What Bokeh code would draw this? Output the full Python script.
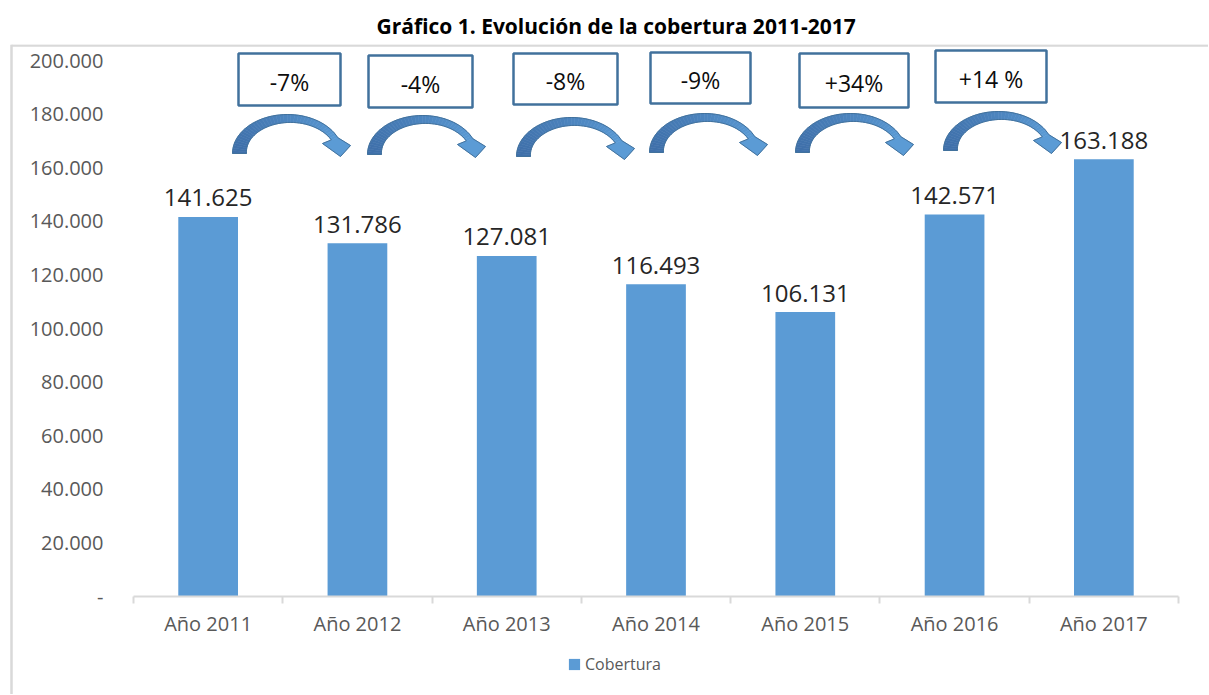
import math
from bokeh.plotting import figure
from bokeh.models import Range1d, FixedTicker, Legend, LegendItem
from bokeh.core.properties import value
from bokeh.embed import file_html
from bokeh.resources import INLINE

# ---------------- data ----------------
categories = ["Año 2011", "Año 2012", "Año 2013", "Año 2014", "Año 2015", "Año 2016", "Año 2017"]
cobertura = [141625, 131786, 127081, 116493, 106131, 142571, 163188]
series_name = "Cobertura"
y_ticks = [0, 20000, 40000, 60000, 80000, 100000, 120000, 140000, 160000, 180000, 200000]
y_tick_labels = ["-", "20.000", "40.000", "60.000", "80.000", "100.000", "120.000",
                 "140.000", "160.000", "180.000", "200.000"]
changes = ["-7%", "-4%", "-8%", "-9%", "+34%", "+14 %"]
title_text = "Gráfico 1. Evolución de la cobertura 2011-2017"

# ---------------- layout (page pixels) ----------------
W, H = 1208, 694
N = len(categories)
X0_PX, X1_PX = 133, 1178          # category axis extent on the page
Y0_PX, Y200_PX = 596, 60          # value 0 and 200.000 on the page
TOP_PX = 44                       # top of the plotting frame
PXU = (X1_PX - X0_PX) / N         # px per category
PYU = (Y0_PX - Y200_PX) / 200000  # px per unit value

def xd(px):
    return (px - X0_PX) / PXU

def yd(py):
    return (Y0_PX - py) / PYU

FONT = "Open Sans"
GRAY = "#595959"
BAR = "#5B9BD5"
BOXLINE = "#41719C"

p = figure(width=W, height=H, output_backend="svg", toolbar_location=None,
           x_range=Range1d(xd(0), xd(W)), y_range=Range1d(yd(H), yd(TOP_PX)),
           min_border_left=0, min_border_right=0,
           min_border_top=TOP_PX, min_border_bottom=0)
p.outline_line_color = None
p.xgrid.visible = False
p.ygrid.visible = False
p.background_fill_color = "white"
p.border_fill_color = "white"

# title
p.title.text = title_text
p.title.align = "left"
p.title.offset = 376
p.title.text_font = FONT
p.title.text_font_size = "21px"
p.title.text_font_style = "bold"
p.title.text_color = "#000000"

# outer chart border (light gray)
p.segment(x0=[xd(11), xd(11)], y0=[yd(44), yd(45)], x1=[xd(11), xd(W + 5)], y1=[yd(H + 5), yd(45)],
          line_color="#D9D9D9", line_width=2.5)

centers = [i + 0.5 for i in range(N)]

# bars
r = p.vbar(x=centers, top=cobertura, width=0.4, fill_color=BAR, line_color=None)

# data labels
labels = [f"{v:,}".replace(",", ".") for v in cobertura]
p.text(x=centers, y=cobertura, text=labels, text_align="center", text_baseline="alphabetic",
       y_offset=-19, text_font=value(FONT), text_font_size="24px", text_color="#262626")

# x axis (drawn at value 0)
xa = p.xaxis[0]
xa.fixed_location = 0
xa.bounds = (0, N)
xa.ticker = FixedTicker(ticks=centers, minor_ticks=list(range(N + 1)))
xa.major_label_overrides = {c: lab for c, lab in zip(centers, categories)}
xa.axis_line_color = "#D9D9D9"
xa.axis_line_width = 2
xa.major_tick_line_color = None
xa.major_tick_out = 0
xa.major_tick_in = 0
xa.minor_tick_line_color = "#D9D9D9"
xa.minor_tick_line_width = 2
xa.minor_tick_out = 7
xa.minor_tick_in = 0
xa.major_label_standoff = 6
xa.major_label_text_font = FONT
xa.major_label_text_font_size = "20px"
xa.major_label_text_color = GRAY

# y axis (drawn at the left edge of the first category)
ya = p.yaxis[0]
ya.fixed_location = 0
ya.ticker = FixedTicker(ticks=y_ticks)
ya.major_label_overrides = {t: lab for t, lab in zip(y_ticks, y_tick_labels)}
ya.axis_line_color = None
ya.major_tick_line_color = None
ya.minor_tick_line_color = None
ya.major_tick_out = 0
ya.major_tick_in = 0
ya.major_label_standoff = 30
ya.major_label_text_font = FONT
ya.major_label_text_font_size = "20px"
ya.major_label_text_color = GRAY

# legend (inside the frame, below the category axis)
legend = Legend(items=[LegendItem(label=series_name, renderers=[r])],
                location=(567, H - 675), orientation="horizontal",
                glyph_width=14, glyph_height=14, label_standoff=4,
                label_text_font=FONT, label_text_font_size="16px", label_text_color=GRAY,
                border_line_color=None, background_fill_alpha=0, padding=2, margin=0)
p.add_layout(legend)

# change boxes (page px: left, right, top, bottom)
box_rects = [(238, 340, 53, 105), (368, 472, 55, 107), (513, 617, 53, 104),
             (650, 750, 52, 103), (799, 908, 53, 107), (935, 1046, 50, 102)]
p.quad(left=[xd(b[0]) for b in box_rects], right=[xd(b[1]) for b in box_rects],
       top=[yd(b[2]) for b in box_rects], bottom=[yd(b[3]) for b in box_rects],
       fill_color="white", line_color=BOXLINE, line_width=2.5)
p.text(x=[xd((b[0] + b[1]) / 2) for b in box_rects],
       y=[yd((b[2] + b[3]) / 2 + 2) for b in box_rects],
       text=changes, text_align="center", text_baseline="middle",
       text_font=value(FONT), text_font_size="23px", text_color="#0D0D0D")

# curved arrows (page px anchors = bottom-left of arrow foot)
arrow_anchors = [(232, 153), (367, 154), (516, 156), (649, 152), (795, 152), (943, 150)]

def arrow_parts():
    a, b, cx = 55.0, 39.0, 55.0
    t_end = 0.42
    n = 40
    ts = [math.pi - (math.pi - t_end) * k / n for k in range(n + 1)]
    outer, inner = [], []
    for t in ts:
        th = 7 + 7 * (t - t_end) / (math.pi - t_end)
        outer.append((cx + a * math.cos(t), -b * math.sin(t)))
        inner.append((cx + (a - th) * math.cos(t), -(b - 0.8 * th) * math.sin(t)))
    head = [(118, -8), (108, 3), (90, -10)]
    return outer, inner, head

def mix(c1, c2, f):
    a = [int(c1[i:i + 2], 16) for i in (1, 3, 5)]
    b = [int(c2[i:i + 2], 16) for i in (1, 3, 5)]
    return "#%02x%02x%02x" % tuple(round(a[i] + (b[i] - a[i]) * f) for i in range(3))

outer, inner, head = arrow_parts()
seg_xs, seg_ys, seg_cols = [], [], []
outline_xs, outline_ys = [], []
dark, light = "#3F70AA", "#5B9BD5"
for ax, ay in arrow_anchors:
    n = len(outer) - 1
    for k in range(n):
        quad = [outer[k], outer[k + 1], inner[k + 1], inner[k]]
        seg_xs.append([xd(ax + ox) for ox, oy in quad])
        seg_ys.append([yd(ay + oy) for ox, oy in quad])
        seg_cols.append(mix(dark, light, (k / n) ** 1.3))
    hd = [outer[-1]] + head + [inner[-1]]
    seg_xs.append([xd(ax + ox) for ox, oy in hd])
    seg_ys.append([yd(ay + oy) for ox, oy in hd])
    seg_cols.append(light)
    shape = outer + head + inner[::-1]
    outline_xs.append([xd(ax + ox) for ox, oy in shape])
    outline_ys.append([yd(ay + oy) for ox, oy in shape])

p.patches(xs=seg_xs, ys=seg_ys, fill_color=seg_cols, line_color=seg_cols, line_width=0.6)
p.patches(xs=outline_xs, ys=outline_ys, fill_color=None, line_color="#41719C", line_width=1)

open("out.html", "w").write(file_html(p, INLINE))
